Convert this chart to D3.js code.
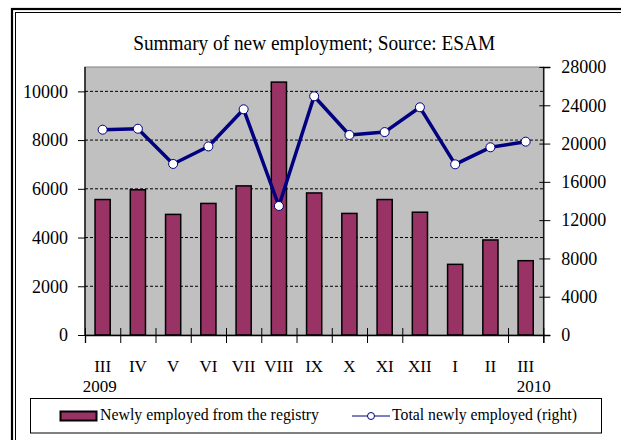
<!DOCTYPE html>
<html>
<head>
<meta charset="utf-8">
<script src="https://cdn.jsdelivr.net/npm/d3@7"></script>
<style>
  body { margin: 0; background: #fff; }
  text { font-family: "Liberation Serif", serif; fill: #000; }
</style>
</head>
<body>
<div class="chart"></div>
<script>
// data
const months = ['III','IV','V','VI','VII','VIII','IX','X','XI','XII','I','II','III'];
const registry = [5560, 5960, 4950, 5400, 6120, 10380, 5830, 4990, 5560, 5040, 2900, 3900, 3050];
const total = [21450, 21550, 17870, 19700, 23580, 13480, 24940, 20900, 21200, 23790, 17830, 19610, 20200];
const leftTicks = [0, 2000, 4000, 6000, 8000, 10000];
const rightTicks = [0, 4000, 8000, 12000, 16000, 20000, 24000, 28000];
const years = ['2009', '2010'];

const width = 621;
const height = 440;
const plot = {left: 85, right: 543.3, top: 67, bottom: 335};

const svg = d3.select('.chart').append('svg')
    .attr('width', width)
    .attr('height', height)

// outer double frame (runs off right and bottom)
svg.append('rect')
    .attr('x', 12).attr('y', 9)
    .attr('width', 700).attr('height', 500)
    .attr('fill', 'none').attr('stroke', '#000').attr('stroke-width', 2.2)
svg.append('rect')
    .attr('x', 15.5).attr('y', 12.5)
    .attr('width', 700).attr('height', 500)
    .attr('fill', 'none').attr('stroke', '#000').attr('stroke-width', 1)

svg.append('text')
    .attr('x', (plot.left + plot.right) / 2)
    .attr('y', 50)
    .attr('text-anchor', 'middle')
    .attr('font-size', 21)
    .attr('textLength', 362)
    .attr('lengthAdjust', 'spacingAndGlyphs')
    .text('Summary of new employment; Source: ESAM')

const x = d3.scaleBand()
    .domain(d3.range(months.length))
    .range([plot.left, plot.right])
    .paddingInner(0.57)
    .paddingOuter(0.285)
const xb = d3.scaleLinear().domain([0, months.length]).range([plot.left, plot.right]);
const yL = d3.scaleLinear().domain([0, 11000]).range([plot.bottom, plot.top]);
const yR = d3.scaleLinear().domain([0, 28000]).range([plot.bottom, plot.top]);

// plot area
svg.append('rect')
    .attr('x', plot.left).attr('y', plot.top)
    .attr('width', plot.right - plot.left)
    .attr('height', plot.bottom - plot.top)
    .attr('fill', '#c0c0c0')
    .attr('stroke', '#808080')

svg.selectAll('.grid')
    .data(leftTicks.filter(d => d > 0))
    .enter()
    .append('line')
    .attr('class', 'grid')
    .attr('x1', plot.left).attr('x2', plot.right)
    .attr('y1', d => yL(d)).attr('y2', d => yL(d))
    .attr('stroke', '#000')
    .attr('stroke-dasharray', '3,2')

// bars
svg.selectAll('.bar')
    .data(registry)
    .enter()
    .append('rect')
    .attr('class', 'bar')
    .attr('x', (d, i) => x(i))
    .attr('y', d => yL(d))
    .attr('width', x.bandwidth())
    .attr('height', d => plot.bottom - yL(d))
    .attr('fill', '#993366')
    .attr('stroke', '#000')
    .attr('stroke-width', 1.5)

// line
const line = d3.line()
    .x((d, i) => x(i) + x.bandwidth() / 2)
    .y(d => yR(d))
svg.append('path')
    .datum(total)
    .attr('d', line)
    .attr('fill', 'none')
    .attr('stroke', '#000080')
    .attr('stroke-width', 3.5)
    .attr('stroke-linejoin', 'round')
svg.selectAll('.dot')
    .data(total)
    .enter()
    .append('circle')
    .attr('class', 'dot')
    .attr('cx', (d, i) => x(i) + x.bandwidth() / 2)
    .attr('cy', d => yR(d))
    .attr('r', 4.5)
    .attr('fill', '#fff')
    .attr('stroke', '#000080')
    .attr('stroke-width', 1)

// axes
const axisL = svg.append('g')
    .attr('transform', `translate(${plot.left},0)`)
    .call(d3.axisLeft(yL).tickValues(leftTicks).tickFormat(d3.format('d')).tickSize(7).tickPadding(10))
axisL.select('.domain').attr('d', `M0,${plot.top}V${plot.bottom}`)

const axisR = svg.append('g')
    .attr('transform', `translate(${plot.right},0)`)
    .call(d3.axisRight(yR).tickValues(rightTicks).tickFormat(d3.format('d')).tickSize(7).tickPadding(11))
axisR.selectAll('.tick line').attr('x1', -4)

const axisB = svg.append('g')
    .attr('transform', `translate(0,${plot.bottom})`)
    .call(d3.axisBottom(xb).tickValues(d3.range(months.length + 1).filter(d => d != 10 && d != 11)).tickFormat('').tickSize(8))
axisB.selectAll('.tick line').attr('y1', -7)

svg.selectAll('g').attr('font-family', null)
svg.selectAll('.domain').attr('stroke', '#000').attr('stroke-width', 1.3)
svg.selectAll('.tick line').attr('stroke', '#000')
svg.selectAll('.tick text')
    .style('font-family', '"Liberation Serif", serif')
    .attr('font-size', 18)
    .attr('fill', '#000')

svg.selectAll('.month')
    .data(months)
    .enter()
    .append('text')
    .attr('class', 'month')
    .attr('x', (d, i) => x(i) + x.bandwidth() / 2)
    .attr('y', 372)
    .attr('text-anchor', 'middle')
    .attr('font-size', 17)
    .text(d => d)

svg.selectAll('.year')
    .data(years)
    .enter()
    .append('text')
    .attr('class', 'year')
    .attr('x', (d, i) => i == 0 ? x(0) + x.bandwidth() / 2 - 3 : x(months.length - 1) + x.bandwidth() / 2 + 8)
    .attr('y', 392)
    .attr('text-anchor', 'middle')
    .attr('font-size', 17)
    .text(d => d)

// legend
svg.append('rect')
    .attr('x', 30.5).attr('y', 398.5)
    .attr('width', 571).attr('height', 34.5)
    .attr('fill', '#fff').attr('stroke', '#000')
svg.append('rect')
    .attr('x', 60.5).attr('y', 411.5)
    .attr('width', 36).attr('height', 9)
    .attr('fill', '#993366').attr('stroke', '#000').attr('stroke-width', 2)
svg.append('text')
    .attr('x', 100).attr('y', 420)
    .attr('font-size', 16)
    .attr('textLength', 219)
    .attr('lengthAdjust', 'spacingAndGlyphs')
    .text('Newly employed from the registry')
svg.append('line')
    .attr('x1', 352).attr('x2', 390)
    .attr('y1', 416).attr('y2', 416)
    .attr('stroke', '#000080')
svg.append('circle')
    .attr('cx', 371).attr('cy', 416).attr('r', 3.5)
    .attr('fill', '#fff').attr('stroke', '#000080')
svg.append('text')
    .attr('x', 392).attr('y', 420)
    .attr('font-size', 16)
    .attr('textLength', 185)
    .attr('lengthAdjust', 'spacingAndGlyphs')
    .text('Total newly employed (right)')
</script>
</body>
</html>
